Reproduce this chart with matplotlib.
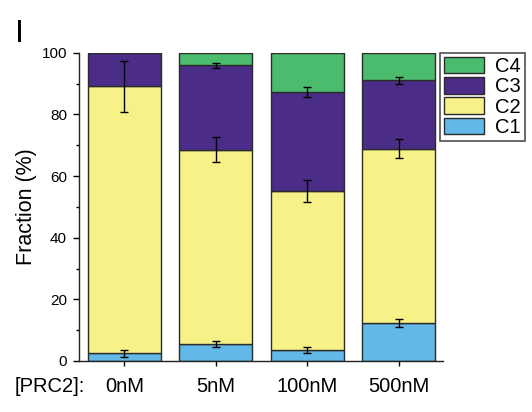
import matplotlib
matplotlib.use("Agg")
import matplotlib.pyplot as plt
from matplotlib.ticker import MultipleLocator
import numpy as np

plt.rcParams['font.family'] = ['Liberation Sans', 'DejaVu Sans']

conditions = ["0nM", "5nM", "100nM", "500nM"]
classes = ["C1", "C2", "C3", "C4"]

# mean fraction (%) of each class per PRC2 concentration
c1 = [2.5, 5.4, 3.6, 12.4]
c2 = [86.6, 63.2, 51.6, 56.4]
c3 = [10.9, 27.3, 32.0, 22.2]
c4 = [0.0, 4.1, 12.8, 9.0]

# standard deviations, drawn at the top of each segment
c1_err = [1.1, 1.0, 0.9, 1.3]
c2_err = [8.3, 4.2, 3.5, 3.1]
c3_err = [None, 0.9, 1.7, 1.0]

colors = {"C1": "#62B8E6", "C2": "#F6F287", "C3": "#4B2C87", "C4": "#4BBC6E"}

fig = plt.figure(figsize=(5.32, 4.12), dpi=100)
ax = fig.add_axes([0.1485, 0.1238, 0.6848, 0.7483])

x = np.arange(len(conditions))
width = 0.8
series = {"C1": c1, "C2": c2, "C3": c3, "C4": c4}
errs = {"C1": c1_err, "C2": c2_err, "C3": c3_err}

bottom = np.zeros(len(conditions))
handles = {}
for name in classes:
    vals = np.array(series[name], dtype=float)
    h = ax.bar(x, vals, width, bottom=bottom, color=colors[name],
               edgecolor="#2b2b2b", linewidth=1.0, label=name, zorder=2)
    handles[name] = h
    top = bottom + vals
    if name in errs:
        for i, e in enumerate(errs[name]):
            if e is None:
                continue
            ax.errorbar(x[i], top[i], yerr=e, fmt="none", ecolor="black",
                        elinewidth=1.0, capsize=2.6, capthick=1.0, zorder=3)
    bottom = top

ax.set_xlim(-0.495, 3.486)
ax.set_ylim(0, 100)
ax.spines["top"].set_visible(False)
ax.spines["right"].set_visible(False)
for s in ("left", "bottom"):
    ax.spines[s].set_linewidth(1.0)
    ax.spines[s].set_color("#222222")

ax.yaxis.set_major_locator(MultipleLocator(20))
ax.yaxis.set_minor_locator(MultipleLocator(10))
ax.tick_params(axis="y", which="major", length=4.3, width=1.0, labelsize=11, pad=4.3)
ax.tick_params(axis="y", which="minor", length=2.2, width=1.0)
ax.set_xticks(x)
ax.set_xticklabels(conditions)
ax.tick_params(axis="x", which="major", length=3.6, width=1.0, labelsize=14.5, pad=8)

ax.set_ylabel("Fraction (%)", fontsize=15.5, labelpad=3)

fig.text(15 / 532, 1 - 392 / 412, "[PRC2]:", fontsize=14.5, ha="left", va="baseline")
fig.text(15 / 532, 1 - 42 / 412, "I", fontsize=23, ha="left", va="baseline")

leg = fig.legend([handles[n] for n in ["C4", "C3", "C2", "C1"]],
                 ["C4", "C3", "C2", "C1"],
                 loc="upper left", bbox_to_anchor=(440 / 532, 1 - 52.7 / 412),
                 fontsize=14.5, frameon=True, fancybox=False, edgecolor="#222222",
                 borderpad=0.2, labelspacing=0.05, handlelength=2.0,
                 handleheight=0.9, handletextpad=0.55, borderaxespad=0)
leg.get_frame().set_linewidth(1.2)

fig.savefig("out.png", dpi=100)
